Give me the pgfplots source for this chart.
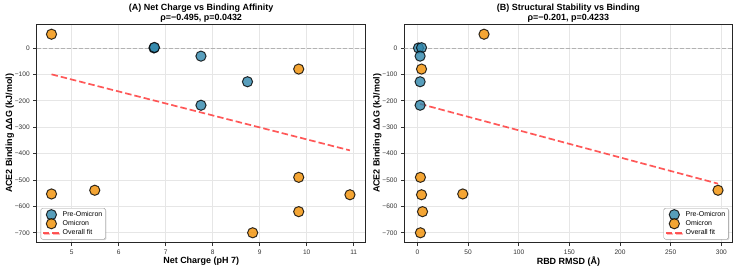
\documentclass[border=0pt]{standalone}
\usepackage{fontspec}
\setmainfont{Liberation Sans}
\usepackage{pgfplots}
\pgfplotsset{compat=1.18}
\usetikzlibrary{shadows}
\definecolor{pre}{HTML}{2E86AB}
\definecolor{omi}{HTML}{F18F01}
\definecolor{fitred}{HTML}{FF3B3B}
\definecolor{gridc}{HTML}{E6E6E6}
\definecolor{tickc}{HTML}{333333}

\pgfplotsset{
  panel/.style={
    scale only axis,
    anchor=south west,
    tick pos=left,
    tick align=outside,
    major tick length=3.5bp,
    every tick/.style={tickc, line width=0.7bp},
    axis line style={line width=1.3bp, black!85},
    grid=major,
    major grid style={gridc, line width=0.7bp},
    ymin=-737.6, ymax=89.6,
    ytick={-700,-600,-500,-400,-300,-200,-100,0},
    yticklabels={−700,−600,−500,−400,−300,−200,−100,0},
    tick label style={font=\fontsize{6.6}{7.5}\selectfont, text=tickc},
    /pgf/number format/assume math mode=true,
    every axis y label/.style={at={(axis description cs:-0.082,0.5)}, rotate=90, anchor=center,
      font=\fontsize{9}{10}\selectfont\bfseries},
    every axis x label/.style={at={(axis description cs:0.5,-0.086)}, anchor=center,
      font=\fontsize{9}{10}\selectfont\bfseries},
    ylabel={ACE2 Binding ΔΔG (kJ/mol)},
    title style={font=\fontsize{9}{9.6}\selectfont\bfseries, align=center, yshift=-7.5bp},
    legend cell align=left,
    legend style={font=\fontsize{7}{7.6}\selectfont, draw=black!40, fill=white,
      rounded corners=1.5bp, drop shadow={shadow xshift=1bp, shadow yshift=-1bp, opacity=0.35},
      inner sep=1.2bp, row sep=-1.5bp},
  },
  prept/.style={only marks, mark=*, mark size=5.1bp,
    mark options={fill=pre, fill opacity=0.8, draw=black, draw opacity=0.8, line width=1bp}},
  omipt/.style={only marks, mark=*, mark size=5.1bp,
    mark options={fill=omi, fill opacity=0.8, draw=black, draw opacity=0.8, line width=1bp}},
  fitline/.style={fitred, opacity=0.85, line width=1.7bp, dash pattern=on 6.5bp off 3bp},
  zeroline/.style={black!30, line width=0.8bp, dash pattern=on 4bp off 2bp, forget plot},
}

\begin{document}
\begin{tikzpicture}
\useasboundingbox (0,0) rectangle (737bp,269bp);

% Panel A: net charge against binding free energy change
\begin{axis}[panel,
  at={(36.7bp,26.3bp)}, width=329bp, height=218.4bp,
  xmin=4.255, xmax=11.255,
  xtick={5,6,7,8,9,10,11},
  xlabel={Net Charge (pH 7)},
  title={(A) Net Charge vs Binding Affinity\\ρ=−0.495, p=0.0432},
  legend style={at={(0.012,0.015)}, anchor=south west},
]
\addplot[zeroline] coordinates {(4.255,0) (11.255,0)};
\addplot[prept] coordinates {
  (6.75,0) (6.76,2) (7.75,-31) (8.74,-128) (7.75,-217)
};
\addlegendentry{Pre-Omicron}
\addplot[omipt] coordinates {
  (4.57,52) (9.83,-80) (4.57,-553) (5.49,-539) (9.83,-490)
  (10.92,-556) (9.83,-620) (8.85,-700)
};
\addlegendentry{Omicron}
\addplot[fitline] coordinates {(4.57,-100) (10.92,-388)};
\addlegendentry{Overall fit}
\end{axis}

% Panel B: RBD structural deviation against binding free energy change
\begin{axis}[panel,
  at={(404.3bp,26.3bp)}, width=328.2bp, height=218.4bp,
  xmin=-13, xmax=311,
  xtick={0,50,100,150,200,250,300},
  xlabel={RBD RMSD (Å)},
  title={(B) Structural Stability vs Binding\\ρ=−0.201, p=0.4233},
  legend style={at={(0.988,0.015)}, anchor=south east},
]
\addplot[zeroline] coordinates {(-13,0) (311,0)};
\addplot[prept] coordinates {
  (1,0) (4,1) (2.6,-31) (2.6,-128) (2.6,-217)
};
\addlegendentry{Pre-Omicron}
\addplot[omipt] coordinates {
  (65.7,52) (4,-80) (2.9,-490) (4,-556) (5,-620) (2.9,-700)
  (44.7,-553) (296.7,-539)
};
\addlegendentry{Omicron}
\addplot[fitline] coordinates {(2.6,-212) (296.7,-514)};
\addlegendentry{Overall fit}
\end{axis}
\end{tikzpicture}
\end{document}
